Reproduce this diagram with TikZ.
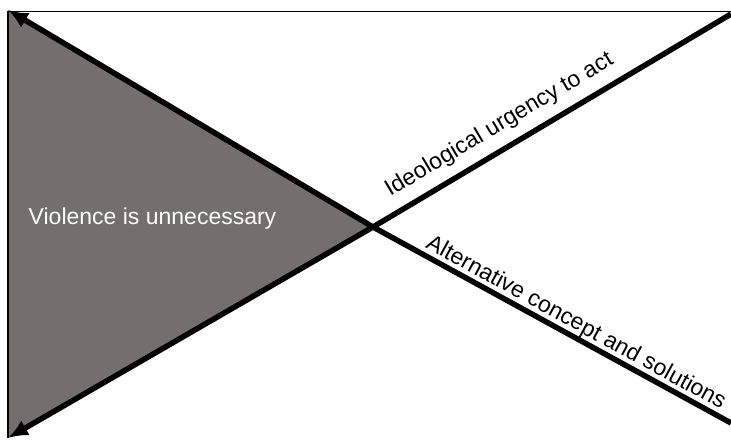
\documentclass[tikz,border=0pt]{standalone}
\usepackage{fontspec}
\setmainfont{Liberation Sans}
\usetikzlibrary{arrows.meta}
\definecolor{wedgegray}{RGB}{116,111,110}

\begin{document}
\begin{tikzpicture}[
    x=1pt, y=-1pt,
    frame/.style={line width=1.5pt, black},
    bigline/.style={line width=5.5pt, black},
    arrow/.style={bigline, -{Latex[length=20pt,width=17pt]}},
    linetext/.style={font=\fontsize{23}{27}\selectfont, sloped, anchor=base, inner sep=0pt}
]
\useasboundingbox (0,0) rectangle (731,441);

% Corners and crossing point
\coordinate (tl) at (8,10);
\coordinate (bl) at (8,438);
\coordinate (tr) at (731,14);
\coordinate (br) at (731,423);
\coordinate (cross) at (373,227);
\coordinate (frametl) at (8,11.5);
\coordinate (frametr) at (731,11.5);

% Shaded wedge
\fill[wedgegray] (tl) -- (cross) -- (bl) -- cycle;
\node[font=\fontsize{23}{27}\selectfont, text=white, anchor=base] (wedgetext) at (152.5,224) {Violence is unnecessary};

% Thin frame lines
\draw[frame] (frametl) -- (frametr);
\draw[frame] (frametl) -- (bl);

% Arrows to the left corners
\draw[arrow] (cross) -- (tl);
\draw[arrow] (cross) -- (bl);

% Lines to the right with their labels
\draw[bigline] (cross) -- node[linetext, pos=0.386, yshift=17pt] (urgency) {Ideological urgency to act} (tr);
\draw[bigline] (cross) -- node[linetext, pos=0.549, yshift=7pt] (alternative) {Alternative concept and solutions} (br);

\end{tikzpicture}
\end{document}
